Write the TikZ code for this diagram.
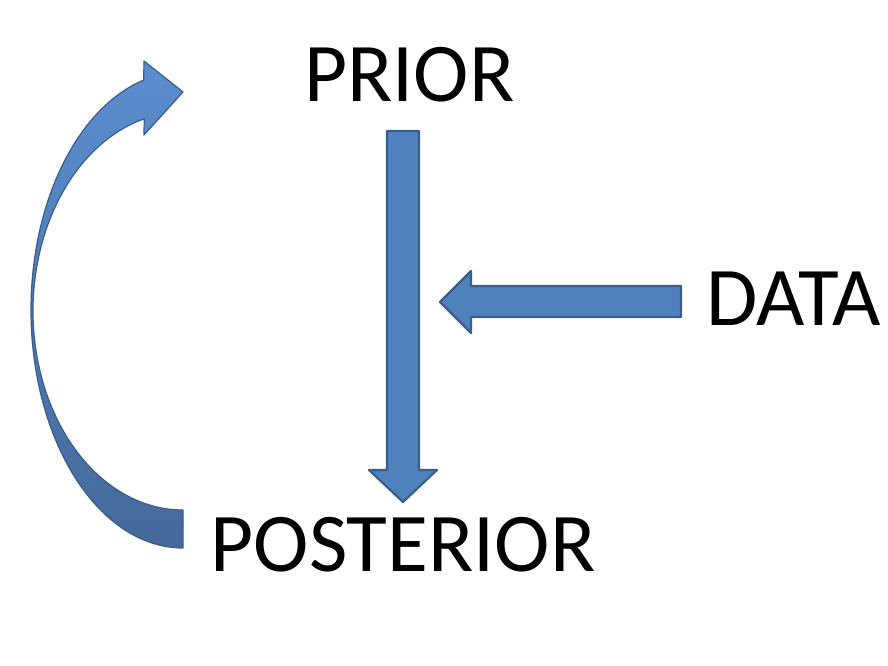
\documentclass[tikz,border=0pt]{standalone}
\usepackage{fontspec}
\setmainfont{Carlito}
\definecolor{arrowfill}{HTML}{4F81BD}
\definecolor{arrowline}{HTML}{3A5E8C}
\definecolor{curvetop}{HTML}{5B8ED0}
\definecolor{curvebot}{HTML}{446899}
\begin{document}
\begin{tikzpicture}[x=1pt,y=1pt,
  label/.style={inner sep=0pt,anchor=base,font=\fontsize{83.5}{90}\selectfont},
  blockarrow/.style={fill=arrowfill,draw=arrowline,line width=2.2pt,line join=round},
  curvearrow/.style={draw=arrowline,line width=1.2pt,line join=round,top color=curvetop,bottom color=curvebot}]
\useasboundingbox (0,0) rectangle (888,666);
\node[label] (prior) at (409.5,564) {PRIOR};
\node[label] (data) at (794,340) {DATA};
\node[label] (posterior) at (403,94) {POSTERIOR};
% vertical arrow prior -> posterior
\draw[blockarrow] (387,535) -- (419,535) -- (419,196) -- (437,196) -- (403,164) -- (369,196) -- (387,196) -- cycle;
% horizontal arrow from data
\draw[blockarrow] (681,380) -- (471,380) -- (471,395) -- (440,364) -- (471,333) -- (471,349) -- (681,349) -- cycle;
% curved arrow posterior -> prior
\draw[curvearrow] (183,118) arc[start angle=270,end angle=105,x radius=152pt,y radius=238pt]
  -- (144,605) -- (183,574) -- (144,531) -- (144.2,547.2)
  arc[start angle=105,end angle=270,x radius=150pt,y radius=199pt] -- cycle;
\end{tikzpicture}
\end{document}
